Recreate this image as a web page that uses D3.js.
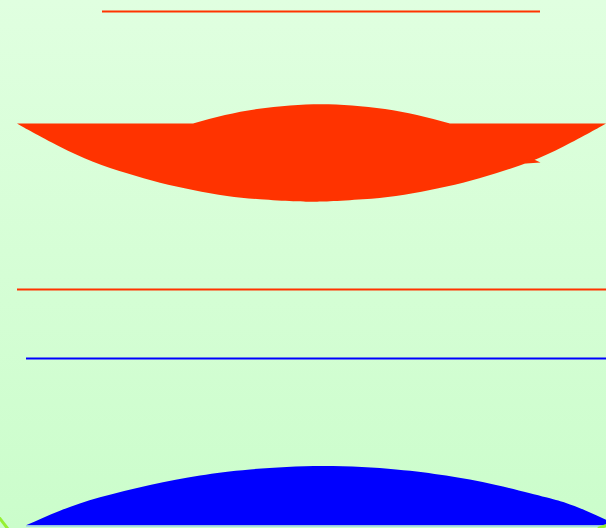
<!DOCTYPE html>
<html>
<head>
<meta charset="utf-8">
<script src="https://cdn.jsdelivr.net/npm/d3@7"></script>
<style>
html, body { margin: 0; padding: 0; overflow: hidden; }
svg { display: block; }
</style>
</head>
<body>
<div id="chart"></div>
<script>
// values, in chart units
var lineStarts = [102, 17, 26];
var lineEnds = [540, 606, 606];
var lineLevels = [11.5, 289.5, 358.5];

var redBaseline = 123.5;
var redLeft = 17;
var redRight = 606;
var redLowerX = [17, 33, 60, 93, 127, 160, 193, 227, 260, 293, 311.5, 330, 363, 396, 430, 463, 496, 530, 563, 590, 606];
var redLowerY = [123.5, 132.5, 146.7, 161.7, 173.3, 182.7, 190, 196, 199.3, 201.3, 201.7, 201.3, 199.3, 196, 190, 182.7, 173.3, 161.7, 146.7, 132.5, 123.5];
var redUpperX = [193, 225, 257, 290, 321, 352, 385, 417, 450];
var redUpperY = [123.5, 115, 109, 105.5, 104.3, 105.5, 109, 115, 123.5];
var spurX = [519, 534, 540.5, 526];
var spurY = [160.5, 159.5, 162.5, 163.5];

var blueBaseline = 525.3;
var blueX = [26, 60, 100, 150, 200, 250, 323, 396, 446, 496, 546, 566, 586, 606];
var blueY = [525.3, 510.7, 497.3, 484.9, 475.5, 469.4, 466, 469.4, 475.5, 484.9, 497.3, 503, 510.7, 519.7];

var edgeX = [[-2, 8], [598, 608]];
var edgeY = [[516, 529], [528.5, 525]];

var width = 606;
var height = 528;
var red = '#ff3300';
var blue = '#0000ff';
var lineColors = [red, red, blue];

var svg = d3.select('#chart')
  .append('svg')
  .attr('width', width)
  .attr('height', height);

var x = d3.scaleLinear().domain([0, 606]).range([0, width]);
var y = d3.scaleLinear().domain([0, 528]).range([0, height]);

var grad = svg.append('defs').append('linearGradient')
  .attr('id', 'bg')
  .attr('x1', 0).attr('y1', 0).attr('x2', 0).attr('y2', 1);
grad.append('stop').attr('offset', '0%').attr('stop-color', '#e0ffe0');
grad.append('stop').attr('offset', '100%').attr('stop-color', '#cbfdcb');

svg.append('rect')
  .attr('width', width)
  .attr('height', height)
  .attr('fill', 'url(#bg)');

function zip(xs, ys) {
  return xs.map(function(v, i) { return [v, ys[i]]; });
}

var smooth = d3.line()
  .x(function(d) { return x(d[0]); })
  .y(function(d) { return y(d[1]); })
  .curve(d3.curveNatural);

// red lens as one path: flat top with the bump, curved belly back
var topPath = smooth(zip(redUpperX, redUpperY)).replace(/^M/, 'L');
var bellyPath = smooth(zip(redLowerX, redLowerY).reverse()).replace(/^M/, 'L');
svg.append('path')
  .attr('d', 'M' + x(redLeft) + ',' + y(redBaseline) + topPath +
    'L' + x(redRight) + ',' + y(redBaseline) + bellyPath + 'Z')
  .attr('fill', red);
svg.append('path')
  .attr('d', d3.line().x(function(d) { return x(d[0]); }).y(function(d) { return y(d[1]); })(zip(spurX, spurY)) + 'Z')
  .attr('fill', red);

// blue dome
var domeArea = d3.area()
  .x(function(d) { return x(d[0]); })
  .y0(y(blueBaseline))
  .y1(function(d) { return y(d[1]); })
  .curve(d3.curveNatural);
svg.append('path')
  .attr('d', domeArea(zip(blueX, blueY)))
  .attr('fill', blue);
svg.append('line')
  .attr('x1', x(blueX[0])).attr('x2', x(606))
  .attr('y1', y(blueBaseline) + 1).attr('y2', y(blueBaseline) + 1)
  .attr('stroke', '#9fd0f5')
  .attr('stroke-width', 1);

// horizontal lines
svg.selectAll('line.rule')
  .data(lineLevels)
  .enter()
  .append('line')
  .attr('class', 'rule')
  .attr('x1', function(d, i) { return x(lineStarts[i]); })
  .attr('x2', function(d, i) { return x(lineEnds[i]); })
  .attr('y1', function(d) { return y(d); })
  .attr('y2', function(d) { return y(d); })
  .attr('stroke', function(d, i) { return lineColors[i]; })
  .attr('stroke-width', 2);

// green edge strokes in the bottom corners
svg.selectAll('line.edge')
  .data(edgeX)
  .enter()
  .append('line')
  .attr('class', 'edge')
  .attr('x1', function(d) { return x(d[0]); })
  .attr('x2', function(d) { return x(d[1]); })
  .attr('y1', function(d, i) { return y(edgeY[i][0]); })
  .attr('y2', function(d, i) { return y(edgeY[i][1]); })
  .attr('stroke', '#96f032')
  .attr('stroke-width', 3);
</script>
</body>
</html>
